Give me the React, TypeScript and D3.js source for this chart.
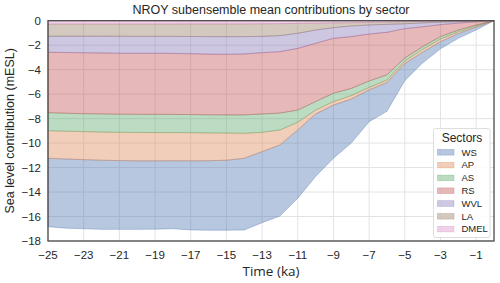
import React from 'react';
import * as d3 from 'd3';

const times = [-25, -24, -23, -22, -21, -20, -19, -18, -17, -16, -15, -14, -13, -12, -11, -10, -9, -8, -7, -6, -5, -4, -3, -2, -1, 0];

// per-sector mean contributions (mESL), negative = sea level fall
const dmel = [-0.27, -0.27, -0.27, -0.27, -0.27, -0.27, -0.27, -0.27, -0.26, -0.26, -0.26, -0.26, -0.25, -0.24, -0.22, -0.2, -0.18, -0.16, -0.14, -0.12, -0.08, -0.06, -0.04, -0.03, -0.01, 0];
const la = [-1.0, -1.0, -1.0, -1.0, -1.0, -1.01, -1.01, -1.01, -1.03, -1.04, -1.04, -1.04, -1.03, -0.98, -0.81, -0.56, -0.39, -0.27, -0.21, -0.18, -0.17, -0.12, -0.08, -0.05, -0.03, 0];
const wvl = [-1.31, -1.33, -1.35, -1.37, -1.39, -1.38, -1.38, -1.39, -1.41, -1.43, -1.45, -1.42, -1.33, -1.31, -1.23, -1.09, -0.87, -0.87, -0.74, -0.65, -0.4, -0.32, -0.2, -0.12, -0.05, 0];
const rs = [-4.94, -4.96, -4.98, -4.98, -4.98, -4.99, -4.99, -4.99, -4.97, -4.96, -4.95, -4.98, -5.01, -5.02, -5.04, -4.76, -4.49, -4.23, -3.84, -3.47, -2.4, -1.62, -0.98, -0.56, -0.26, 0];
const as = [-1.47, -1.47, -1.46, -1.48, -1.48, -1.48, -1.49, -1.48, -1.48, -1.48, -1.48, -1.5, -1.5, -1.38, -1.0, -0.69, -0.68, -0.59, -0.52, -0.43, -0.25, -0.22, -0.2, -0.14, -0.08, 0];
const ap = [-2.25, -2.27, -2.29, -2.3, -2.31, -2.32, -2.31, -2.3, -2.3, -2.27, -2.22, -2.04, -1.58, -1.22, -0.63, -0.32, -0.28, -0.28, -0.2, -0.2, -0.2, -0.24, -0.21, -0.15, -0.09, 0];
const ws = [-5.59, -5.65, -5.65, -5.65, -5.62, -5.6, -5.58, -5.56, -5.65, -5.68, -5.72, -5.86, -5.8, -5.81, -5.57, -5.12, -4.35, -3.6, -2.6, -2.35, -1.4, -0.87, -0.59, -0.39, -0.24, 0];

const legendOrder = ['WS', 'AP', 'AS', 'RS', 'WVL', 'LA', 'DMEL'];
const stackOrder = ['DMEL', 'LA', 'WVL', 'RS', 'AS', 'AP', 'WS'];
const colors: Record<string, string> = {
  WS: '#4C72B0', AP: '#DD8452', AS: '#55A868', RS: '#C44E52', WVL: '#8172B3', LA: '#937860', DMEL: '#DA8BC3',
};
const xTicks = [-25, -23, -21, -19, -17, -15, -13, -11, -9, -7, -5, -3, -1];
const yTicks = [0, -2, -4, -6, -8, -10, -12, -14, -16, -18];

const W = 500, H = 283;
const m = { left: 48, top: 20.7, right: 6, bottom: 42 };

export default function App() {
  const x = d3.scaleLinear().domain([-25, 0]).range([m.left, W - m.right]);
  const y = d3.scaleLinear().domain([-18, 0]).range([H - m.bottom, m.top]);

  const series: Record<string, number[]> = { WS: ws, AP: ap, AS: as, RS: rs, WVL: wvl, LA: la, DMEL: dmel };
  const rows = times.map((t, i) => {
    const r: Record<string, number> = { t };
    stackOrder.forEach(k => (r[k] = series[k][i]));
    return r;
  });
  const stacked = d3.stack<Record<string, number>>()
    .keys(stackOrder)
    .offset(d3.stackOffsetDiverging)(rows);

  const area = d3.area<d3.SeriesPoint<Record<string, number>>>()
    .x(d => x(d.data.t))
    .y0(d => y(d[0]))
    .y1(d => y(d[1]));

  const font = '"Liberation Sans", Arial, sans-serif';
  const lx = 433.5, ly = 128.5;

  return (
    <div style={{ position: 'absolute', left: 0, top: 0 }}>
      <svg width={W} height={H} style={{ display: 'block', background: '#fff' }}>
        {/* grid */}
        {xTicks.map(t => (
          <line key={'gx' + t} x1={x(t)} x2={x(t)} y1={m.top} y2={H - m.bottom} stroke="#e3e3e3" strokeWidth={1} />
        ))}
        {yTicks.map(t => (
          <line key={'gy' + t} x1={m.left} x2={W - m.right} y1={y(t)} y2={y(t)} stroke="#e3e3e3" strokeWidth={1} />
        ))}

        {/* stacked areas, WS first so the later layers sit on top */}
        {[...stacked].reverse().map(s => (
          <path key={s.key} d={area(s) || ''} fill={colors[s.key]} fillOpacity={0.4}
            stroke={colors[s.key]} strokeOpacity={0.45} strokeWidth={0.8} />
        ))}

        {/* frame */}
        <rect x={m.left} y={m.top} width={W - m.right - m.left} height={H - m.bottom - m.top}
          fill="none" stroke="#4a4a4a" strokeWidth={1.3} />

        {/* tick labels */}
        {yTicks.map(t => (
          <text key={'yl' + t} x={m.left - 7} y={y(t)} dy="0.35em" textAnchor="end"
            fontFamily={font} fontSize={11.5} fill="#262626">{String(t).replace('-', '\u2212')}</text>
        ))}
        {xTicks.map(t => (
          <text key={'xl' + t} x={x(t)} y={H - m.bottom + 18} textAnchor="middle"
            fontFamily={font} fontSize={11.5} fill="#262626">{String(t).replace('-', '\u2212')}</text>
        ))}

        {/* labels */}
        <text x={(m.left + W - m.right) / 2} y={14} textAnchor="middle" fontFamily={font} fontSize={12.5} fill="#262626">
          NROY subensemble mean contributions by sector
        </text>
        <text transform={`translate(14,${(m.top + H - m.bottom) / 2}) rotate(-90)`} textAnchor="middle"
          fontFamily={font} fontSize={12.5} fill="#262626">Sea level contribution (mESL)</text>
        <text x={(m.left + W - m.right) / 2} y={276} textAnchor="middle" fontFamily='"Open Sans", sans-serif'
          fontSize={13.5} fill="#262626">Time (ka)</text>

        {/* legend */}
        <rect x={lx} y={ly} width={56.5} height={109} rx={2} fill="#fff" fillOpacity={0.85} stroke="#d6d6d6" strokeWidth={0.8} />
        <text x={lx + 28.5} y={ly + 13} textAnchor="middle" fontFamily={font} fontSize={12} fill="#262626">Sectors</text>
        {legendOrder.map((k, i) => (
          <g key={'lg' + k} transform={`translate(${lx + 4},${ly + 23.8 + i * 12.8})`}>
            <rect x={0} y={-2.8} width={16.5} height={5.6} fill={colors[k]} fillOpacity={0.4}
              stroke={colors[k]} strokeOpacity={0.45} strokeWidth={0.6} />
            <text x={24} y={0} dy="0.35em" fontFamily={font} fontSize={9.5} fill="#262626">{k}</text>
          </g>
        ))}
      </svg>
    </div>
  );
}
